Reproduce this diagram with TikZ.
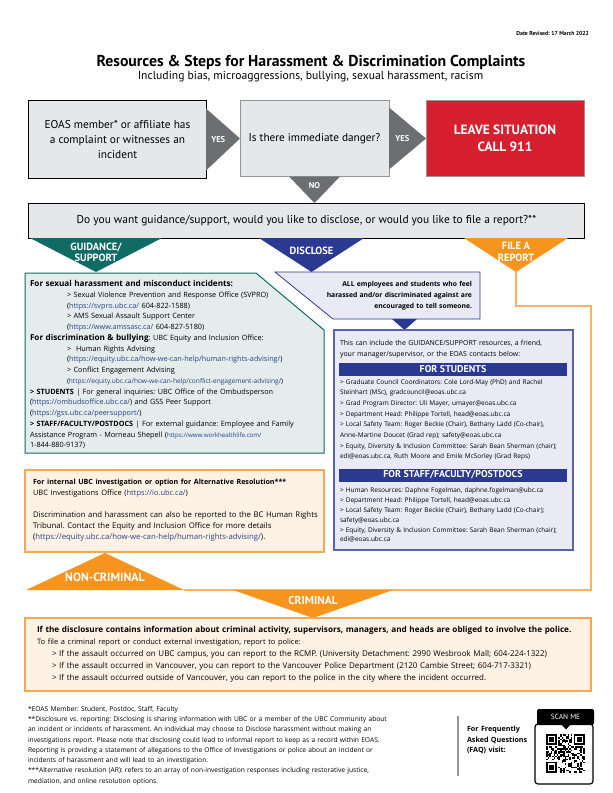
\documentclass[tikz,border=0pt]{standalone}
\usepackage{fontspec}
\setmainfont{Open Sans}
\newfontfamily\hd{PT Sans}
\usetikzlibrary{calc}
\definecolor{boxgray}{HTML}{E6E7E8}
\definecolor{arrgray}{HTML}{6D6E71}
\definecolor{edgegray}{HTML}{939598}
\definecolor{alertred}{HTML}{D6202F}
\definecolor{guidegreen}{HTML}{0F6B63}
\definecolor{guidefill}{HTML}{E4EDEB}
\definecolor{navy}{HTML}{2B3990}
\definecolor{bluefill}{HTML}{E9EAF4}
\definecolor{blueline}{HTML}{5A62A8}
\definecolor{orng}{HTML}{F7941D}
\definecolor{orngline}{HTML}{FBB267}
\definecolor{orngedge}{HTML}{F8A94F}
\definecolor{peach}{HTML}{FEF2E5}
\definecolor{linkblue}{HTML}{27408B}
\newcommand\fsz[2]{\fontsize{#1}{#2}\selectfont}
\newcommand\lk[1]{\textcolor{linkblue}{#1}}
\newcommand\ind{\hspace*{37bp}}
\frenchspacing
\begin{document}
\begin{tikzpicture}[x=1bp,y=-1bp,
  every node/.style={inner sep=0pt,outer sep=0pt},
  graybox/.style={fill=boxgray,draw=#1,line width=1bp,minimum height=76bp},
  lbl/.style={text=white,font=\hd\bfseries\fsz{#1}{11.5}},
  blk/.style={anchor=north west,align=left,text width=#1},
]
\useasboundingbox (0,0) rectangle (613,793);
\fill[white] (0,0) rectangle (613,793);

% header
\node[anchor=east,font=\hd\bfseries\fsz{5.8}{7}] (date) at (589,33) {Date Revised: 17 March 2022};
\node[font=\hd\bfseries\fsz{15.8}{18}] (title) at (311,62) {Resources \& Steps for Harassment \& Discrimination Complaints};
\node[font=\hd\fsz{11.7}{13}] (subtitle) at (310.5,77) {Including bias, microaggressions, bullying, sexual harassment, racism};

% top row
\node[graybox=black,minimum width=177bp,minimum height=77bp,align=center,font=\hd\fsz{11.4}{15.5}] (member) at (117.5,139.5) {EOAS member* or affiliate has\\a complaint or witnesses an\\incident};
\node[graybox=edgegray,minimum width=149bp,font=\hd\fsz{11.3}{12}] (danger) at (314.5,138.5) {Is there immediate danger?};
\node[fill=alertred,draw=edgegray,line width=1bp,minimum width=158bp,minimum height=76bp,align=center,text=white,font=\hd\bfseries\fsz{13.4}{17.5}] (leave) at (505,138.5) {LEAVE SITUATION\\CALL 911};
\node[graybox=black,minimum width=555bp,minimum height=35bp,font=\hd\fsz{11.5}{12}] (question) at (306.5,220.5) {Do you want guidance/support, would you like to disclose, or would you like to file a report?**};

\fill[arrgray] ($(member.east)+(0,-31)$) -- (danger.west) -- ($(member.east)+(0,31)$) -- cycle;
\node[lbl=8.5] at ($(member.east)!0.36!(danger.west)$) {YES};
\fill[arrgray] ($(danger.east)+(0,-31)$) -- (leave.west) -- ($(danger.east)+(0,31)$) -- cycle;
\node[lbl=8.5] at ($(danger.east)!0.36!(leave.west)$) {YES};
\fill[arrgray] ($(danger.south)+(-25.5,0)$) -- ($(danger.south)+(25.5,0)$) -- (danger.south |- question.north) -- cycle;
\node[lbl=8.5] at ($(danger.south)+(0,9.5)$) {NO};

% choices
\coordinate (gtip) at (96,272);
\coordinate (dtip) at (311.5,272);
\coordinate (rtip) at (516,272);
\coordinate (bend) at (591,590);
\coordinate (ncR) at (184,590);

% orange connector (behind)
\draw[orngline,line width=1.3bp] (rtip) -- ++(0,34) -| (bend) -- (ncR);

\fill[guidegreen] (30,238) -- (162,238) -- (gtip) -- cycle;
\node[lbl=10.5,align=center] at (96,252.5) {GUIDANCE/\\SUPPORT};
\fill[navy] (259,238) -- (364,238) -- (dtip) -- cycle;
\node[lbl=10.5] at (311.5,251) {DISCLOSE};
\fill[orng] (464,238) -- (568,238) -- (rtip) -- cycle;
\node[lbl=10.5,align=center] at (516,252) {FILE A\\REPORT};

% guidance box
\draw[guidegreen,fill=guidefill,line width=1bp] (25,273) -- (256,273) -- (324,330) -- (324,453) -- (25,453) -- cycle;
\node[blk=300bp,font=\fsz{7.3}{10.8}] (guidetext) at (30,279) {\noindent\strut{\fsz{8.2}{10.8}\bfseries For sexual harassment and misconduct incidents:}\\
\ind> Sexual Violence Prevention and Response Office (SVPRO)\\
\ind(\lk{https://svpro.ubc.ca/} 604-822-1588)\\
\ind> AMS Sexual Assault Support Center\\
\ind(\lk{https://www.amssasc.ca/} 604-827-5180)\\
{\fsz{8.2}{10.8}\bfseries For discrimination \& bullying}: UBC Equity and Inclusion Office:\\
\ind>\ \ Human Rights Advising\\
\ind(\lk{https://equity.ubc.ca/how-we-can-help/human-rights-advising/})\\
\ind> Conflict Engagement Advising\\
\ind{\fsz{6.6}{10.8}(\lk{https://equity.ubc.ca/how-we-can-help/conflict-engagement-advising/})}\\
{\bfseries > STUDENTS} | For general inquiries: UBC Office of the Ombudsperson\\
(\lk{https://ombudsoffice.ubc.ca/}) and GSS Peer Support\\
(\lk{https://gss.ubc.ca/peersupport/})\\
{\bfseries > STAFF/FACULTY/POSTDOCS} | For external guidance: Employee and Family\\
Assistance Program - Morneau Shepell ({\fsz{6.2}{10.8}\lk{https://www.workhealthlife.com/}}\\
1-844-880-9137)};

% disclose boxes
\draw[navy,fill=bluefill,line width=0.8bp] (275,272) -- (480,272) -- (480,319) -- (333,319) -- cycle;
\node[anchor=north east,align=right,text width=200bp,font=\bfseries\fsz{6.8}{11}] (alltext) at (472,278.8) {\strut ALL employees and students who feel\\harassed and/or discriminated against are\\encouraged to tell someone.};
\fill[navy] (392,319) -- (417,319) -- (404.5,330) -- cycle;
\draw[blueline,fill=bluefill,line width=1.2bp] (334,330) rectangle (573,550);
\node[blk=240bp,font=\fsz{7}{11}] (includetext) at (340,337.8) {\noindent\strut This can include the GUIDANCE/SUPPORT resources, a friend,\\your manager/supervisor, or the EOAS contacts below:};
\node[fill=navy,minimum width=228bp,minimum height=13bp,text=white,font=\hd\bfseries\fsz{10}{10}] (students) at (453,369.5) {FOR STUDENTS};
\node[blk=240bp,font=\fsz{6.5}{10.7}] (studentlist) at (340,376.7) {\noindent\strut> Graduate Council Coordinators: Cole Lord-May (PhD) and Rachel\\
Steinhart (MSc), gradcouncil@eoas.ubc.ca\\
> Grad Program Director: Uli Mayer, umayer@eoas.ubc.ca\\
> Department Head: Philippe Tortell, head@eoas.ubc.ca\\
> Local Safety Team: Roger Beckie (Chair), Bethany Ladd (Co-chair),\\
Anne-Martine Doucet (Grad rep); safety@eoas.ubc.ca\\
> Equity, Diversity \& Inclusion Committee: Sarah Bean Sherman (chair);\\
edi@eoas.ubc.ca, Ruth Moore and Emile McSorley (Grad Reps)};
\node[fill=navy,minimum width=228bp,minimum height=13bp,text=white,font=\hd\bfseries\fsz{10}{10}] (staff) at (453,475) {FOR STAFF/FACULTY/POSTDOCS};
\node[blk=240bp,font=\fsz{6.5}{10}] (stafflist) at (340,485.2) {\noindent\strut> Human Resources: Daphne Fogelman, daphne.fogelman@ubc.ca\\
> Department Head: Philippe Tortell, head@eoas.ubc.ca\\
> Local Safety Team: Roger Beckie (Chair), Bethany Ladd (Co-chair);\\
safety@eoas.ubc.ca\\
> Equity, Diversity \& Inclusion Committee: Sarah Bean Sherman (chair);\\
edi@eoas.ubc.ca};

% alternative resolution box
\draw[orngedge,fill=peach,line width=1.2bp] (25,470) rectangle (324,552);
\node[blk=300bp,font=\fsz{7.8}{11}] (alttext) at (33,476.8) {\noindent\strut{\fsz{7.15}{11}\bfseries For internal UBC investigation or option for Alternative Resolution***}\\
{\fsz{7.5}{11}UBC Investigations Office (\lk{https://io.ubc.ca/})}\\[11bp]
Discrimination and harassment can also be reported to the BC Human Rights\\
Tribunal. Contact the Equity and Inclusion Office for more details\\
(\lk{https://equity.ubc.ca/how-we-can-help/human-rights-advising/}).};

% criminal / non-criminal
\fill[orng] (26,590) -- (ncR) -- (105,553) -- cycle;
\node[lbl=12] at (105,577.5) {NON-CRIMINAL};
\fill[orng] (233,590) -- (393,590) -- (313,618) -- cycle;
\node[lbl=11.5] at (313,600) {CRIMINAL};

% police box
\draw[orngedge,fill=peach,line width=1.2bp] (25,618) rectangle (591,691);
\node[blk=580bp,font=\fsz{8}{12}] (policetext) at (37,624.1) {\noindent\strut{\fsz{8.2}{12}\bfseries If the disclosure contains information about criminal activity, supervisors, managers, and heads are obliged to involve the police.}\\
{\fsz{7.5}{12}To file a criminal report or conduct external investigation, report to police:}\\
\hspace*{15bp}> If the assault occurred on UBC campus, you can report to the RCMP. (University Detachment: 2990 Wesbrook Mall; 604-224-1322)\\
\hspace*{15bp}> If the assault occurred in Vancouver, you can report to the Vancouver Police Department (2120 Cambie Street; 604-717-3321)\\
\hspace*{15bp}> If the assault occurred outside of Vancouver, you can report to the police in the city where the incident occurred.};

% footer
\node[blk=440bp,font=\fsz{6.7}{10.3}] (notes) at (28,704.1) {\noindent\strut *EOAS Member: Student, Postdoc, Staff, Faculty\\
{}**Disclosure vs. reporting: Disclosing is sharing information with UBC or a member of the UBC Community about\\
an incident or incidents of harassment. An individual may choose to Disclose harassment without making an\\
investigations report. Please note that disclosing could lead to informal report to keep as a record within EOAS.\\
Reporting is providing a statement of allegations to the Office of Investigations or police about an incident or\\
incidents of harassment and will lead to an investigation.\\
{}***Alternative resolution (AR): refers to an array of non-investigation responses including restorative justice,\\
mediation, and online resolution options.};
\draw[edgegray,line width=1.5bp] (458,716) -- (458,776);
\node[blk=80bp,font=\bfseries\fsz{7.2}{10.3}] (faq) at (467,724.8) {\noindent\strut For Frequently\\Asked Questions\\(FAQ) visit:};

% QR code
\fill[black,rounded corners=2bp] (537,709) rectangle (594,725);
\fill[black] (561,724) -- (571,724) -- (566,729.5) -- cycle;
\node[text=white,font=\hd\fsz{7.5}{8}] (scan) at (565.5,717) {SCAN ME};
\draw[black,line width=1.2bp,rounded corners=3bp] (535,724) rectangle (593,784);
\pgfmathsetseed{1234}
\foreach \i in {0,...,24}{
  \foreach \j in {0,...,24}{
    \pgfmathsetmacro\qv{rnd}
    \ifdim\qv pt<0.5pt
      \fill (546+1.55*\i,734+1.55*\j) rectangle ++(1.55,1.55);
    \fi
  }}
\foreach \X/\Y in {546/734,573.9/734,546/761.9}{
  \fill[white] (\X-1.55,\Y-1.55) rectangle ++(13.95,13.95);
  \fill[black] (\X,\Y) rectangle ++(10.85,10.85);
  \fill[white] (\X+1.55,\Y+1.55) rectangle ++(7.75,7.75);
  \fill[black] (\X+3.1,\Y+3.1) rectangle ++(4.65,4.65);
}
\end{tikzpicture}
\end{document}
